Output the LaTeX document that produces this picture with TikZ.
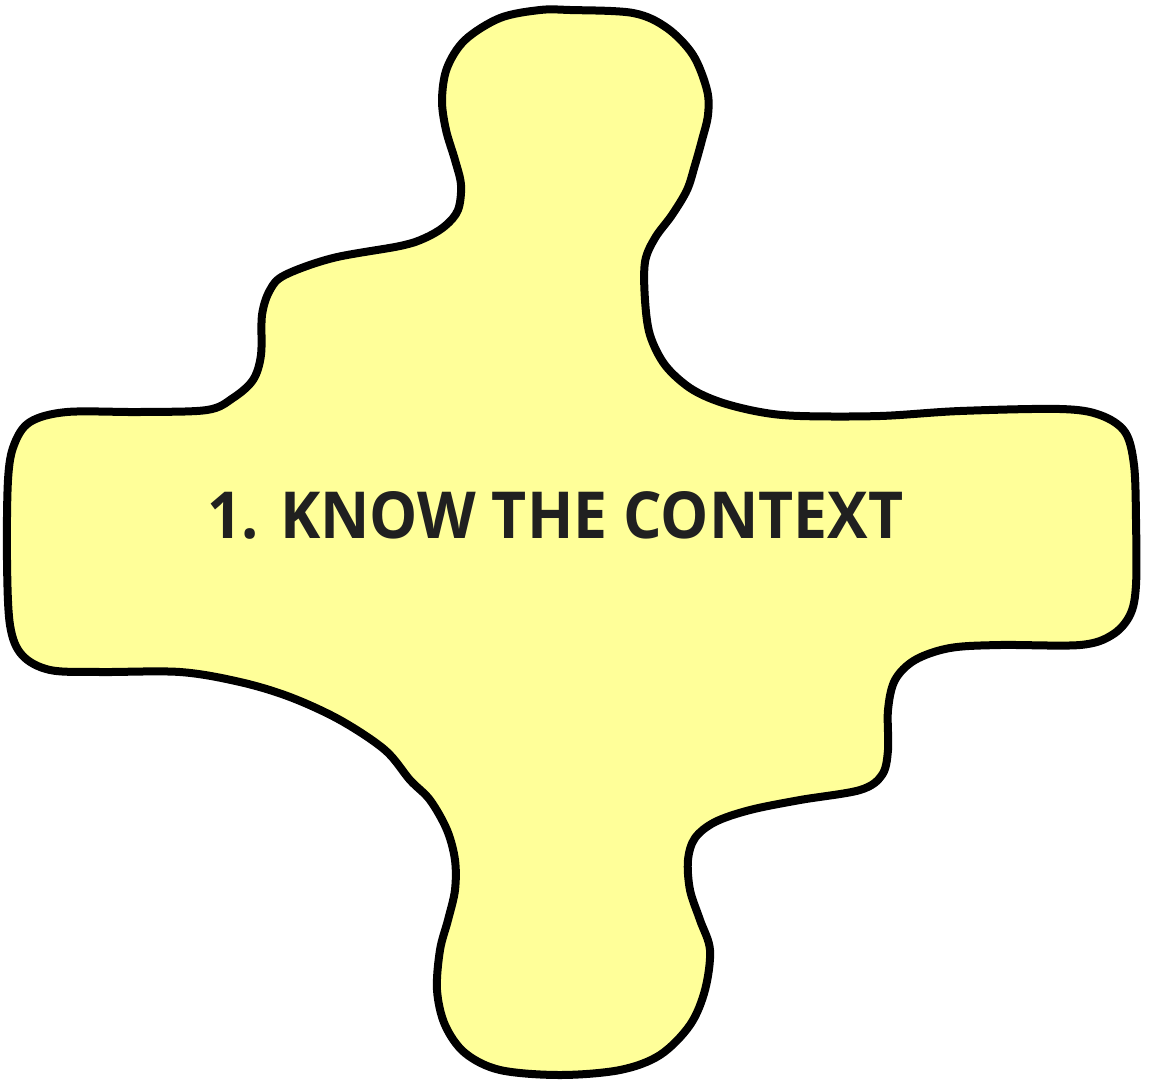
\documentclass[tikz,border=0pt]{standalone}
\usepackage{fontspec}
\setmainfont{Open Sans}
\definecolor{blobfill}{RGB}{255,255,153}
\definecolor{blobtext}{RGB}{32,32,32}
\tikzset{
  blob/.style={draw=black, fill=blobfill, line width=8pt, line join=round},
  blobtitle/.style={inner sep=0pt, text=blobtext, anchor=south west, font=\bfseries\fontsize{66}{70}\selectfont}
}
\begin{document}
\begin{tikzpicture}[x=1pt, y=-1pt]
\useasboundingbox (0,0) rectangle (1149,1082);
\draw[blob] plot[smooth cycle, tension=0.55] coordinates {
(570,10) (633,13) (667,28) (693,55) (707,90) (708,115) (702,140) (695,165) (687,190) (672,215) (655,238) (645,262) (645,300) (650,335) (665,365) (690,388) (720,402) (760,412) (800,416) (880,416) (960,411) (1060,409) (1100,415) (1125,432) (1134,465) (1136,520) (1136,585) (1130,615) (1112,635) (1080,645) (1000,645) (950,648) (915,660) (895,680) (888,710) (888,750) (882,775) (860,790) (800,800) (750,810) (715,822) (695,838) (688,860) (690,890) (700,920) (710,950) (705,990) (690,1025) (660,1055) (620,1070) (560,1075) (500,1070) (465,1053) (445,1025) (437,990) (440,950) (448,920) (455,890) (455,860) (447,830) (430,800) (410,780) (385,750) (340,720) (290,697) (240,682) (180,672) (100,672) (50,670) (22,655) (10,625) (7,560) (8,480) (14,445) (30,422) (67,412) (140,412) (207,410) (233,398) (253,380) (261,355) (262,315) (270,290) (285,275) (333,258) (400,246) (425,238) (445,226) (458,210) (461,185) (455,160) (446,130) (442,100) (447,68) (465,40) (500,18) (540,10)
};
\node[blobtitle] (title) at (207,540) {\resizebox{696pt}{47pt}{1. KNOW THE CONTEXT}};
\end{tikzpicture}
\end{document}
